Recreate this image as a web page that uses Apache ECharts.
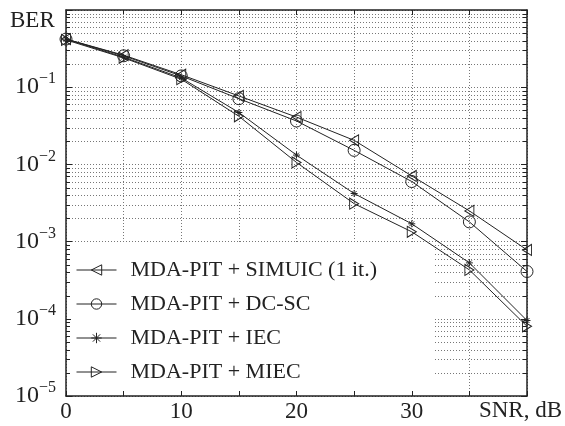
<!DOCTYPE html>
<html>
<head>
<meta charset="utf-8">
<script src="https://cdn.jsdelivr.net/npm/echarts@6/dist/echarts.min.js"></script>
<style>html,body{margin:0;padding:0;background:#fff}#c{width:565px;height:426px}</style>
</head>
<body>
<div id="c"></div>
<script>
var snr = [0, 5, 10, 15, 20, 25, 30, 35, 40];
var simuic = [0.42, 0.26, 0.145, 0.077, 0.041, 0.0205, 0.0071, 0.0025, 0.00078];
var dcsc = [0.42, 0.255, 0.14, 0.071, 0.0365, 0.0152, 0.0060, 0.0018, 0.00041];
var iec = [0.42, 0.245, 0.132, 0.047, 0.0132, 0.0042, 0.0017, 0.00053, 0.000095];
var miec = [0.41, 0.24, 0.127, 0.042, 0.0106, 0.0031, 0.00134, 0.00043, 0.00008];
var seriesNames = ['MDA-PIT + SIMUIC (1 it.)', 'MDA-PIT + DC-SC', 'MDA-PIT + IEC', 'MDA-PIT + MIEC'];
var xTickLabels = ['0', '10', '20', '30'];
var yTickExps = [-5, -4, -3, -2, -1];
var xAxisTitle = 'SNR, dB';
var yAxisTitle = 'BER';

var FONT = 'Liberation Serif';
var INK = '#222';

function pairs(vals) { return snr.map(function (x, i) { return [x, vals[i]]; }); }

var minorVals = [];
for (var e = -5; e < 0; e++) {
  for (var m = 2; m <= 9; m++) minorVals.push([0, m * Math.pow(10, e)]);
}

var symLeft = 'path://M0,5L10,0L10,10Z';
var symRight = 'path://M10,5L0,0L0,10Z';
var symStar = 'path://M0,5L10,5M5,0L5,10M1.5,1.5L8.5,8.5M1.5,8.5L8.5,1.5';

function lineSeries(name, vals, symbol, size) {
  return {
    name: name, type: 'line', data: pairs(vals), symbol: symbol, symbolSize: size,
    showAllSymbol: true, z: 5,
    lineStyle: { color: INK, width: 1 },
    itemStyle: { color: 'rgba(255,255,255,0)', borderColor: INK, borderWidth: 1 },
    emphasis: { disabled: true }, animation: false
  };
}

var option = {
  animation: false,
  grid: { left: 66, right: 38, top: 10, bottom: 30 },
  xAxis: [{
    type: 'value', min: 0, max: 40, interval: 5,
    axisLine: { onZero: false, lineStyle: { color: INK, width: 1.5 } },
    axisTick: { inside: true, length: 5, lineStyle: { color: INK } },
    axisLabel: {
      margin: 4, color: INK, fontFamily: FONT, fontSize: 23,
      formatter: function (v) { var s = String(v); return xTickLabels.indexOf(s) >= 0 ? s : ''; }
    },
    splitLine: { show: true, lineStyle: { color: '#777', type: [1, 2], width: 1 } }
  }, {
    type: 'value', position: 'top', min: 0, max: 40, interval: 5,
    axisLine: { onZero: false, lineStyle: { color: INK, width: 1.5 } },
    axisTick: { inside: true, length: 5, lineStyle: { color: INK } },
    axisLabel: { show: false }, splitLine: { show: false }
  }],
  yAxis: [{
    type: 'log', logBase: 10, min: 0.00001, max: 1, splitNumber: 5,
    axisLine: { onZero: false, lineStyle: { color: INK, width: 1.5 } },
    axisTick: { inside: true, length: 6, lineStyle: { color: INK } },
    axisLabel: {
      margin: 10, color: INK, fontFamily: FONT,
      formatter: function (v) {
        var ex = Math.round(Math.log10(v));
        if (yTickExps.indexOf(ex) < 0) return '';
        return '{b|10}{s|\u2212' + Math.abs(ex) + '}';
      },
      rich: {
        b: { fontFamily: FONT, fontSize: 24, lineHeight: 32, color: INK },
        s: { fontFamily: FONT, fontSize: 16, lineHeight: 15, verticalAlign: 'top', color: INK }
      }
    },
    splitLine: { show: true, lineStyle: { color: '#777', type: [1, 2], width: 1 } }
  }, {
    type: 'log', logBase: 10, min: 0.00001, max: 1, splitNumber: 5, position: 'right',
    axisLine: { onZero: false, lineStyle: { color: INK, width: 1.5 } },
    axisTick: { inside: true, length: 6, lineStyle: { color: INK } },
    axisLabel: { show: false }, splitLine: { show: false }
  }],
  legend: {
    data: seriesNames, orient: 'vertical', left: 76, top: 259,
    padding: 0, itemGap: 12, itemWidth: 40, itemHeight: 13,
    z: 10,
    lineStyle: { width: 1, color: INK },
    itemStyle: { borderWidth: 1, borderColor: INK, color: 'rgba(255,255,255,0)' },
    textStyle: { fontFamily: FONT, fontSize: 22, color: INK, lineHeight: 22, padding: [0, 0, 0, 9] },
    selectedMode: false
  },
  graphic: [
    { type: 'rect', left: 71, top: 242, z: 3, shape: { width: 362, height: 148 }, style: { fill: '#fff' }, silent: true },
    { type: 'text', left: 10, top: 9, z: 20, style: { text: yAxisTitle, font: '23px "Liberation Serif"', fill: INK } },
    { type: 'text', right: 3, top: 399, z: 20, style: { text: xAxisTitle, font: '23px "Liberation Serif"', fill: INK } }
  ],
  series: [
    {
      type: 'custom', coordinateSystem: 'cartesian2d', data: minorVals, z: 1, silent: true,
      renderItem: function (params, api) {
        var cs = params.coordSys;
        var y = Math.round(api.coord([0, api.value(1)])[1]) + 0.5;
        return {
          type: 'group', children: [
            { type: 'line', shape: { x1: cs.x, y1: y, x2: cs.x + cs.width, y2: y }, style: { stroke: '#777', lineWidth: 1, lineDash: [1, 2] } },
            { type: 'line', shape: { x1: cs.x, y1: y, x2: cs.x + 4, y2: y }, style: { stroke: INK, lineWidth: 1 } },
            { type: 'line', shape: { x1: cs.x + cs.width - 4, y1: y, x2: cs.x + cs.width, y2: y }, style: { stroke: INK, lineWidth: 1 } }
          ]
        };
      }
    },
    lineSeries(seriesNames[0], simuic, symLeft, [9, 11]),
    lineSeries(seriesNames[1], dcsc, 'circle', 12),
    lineSeries(seriesNames[2], iec, symStar, 7),
    lineSeries(seriesNames[3], miec, symRight, [9, 11])
  ]
};

var chart = echarts.init(document.getElementById('c'), null, { renderer: 'canvas' });
chart.setOption(option);
</script>
</body>
</html>
